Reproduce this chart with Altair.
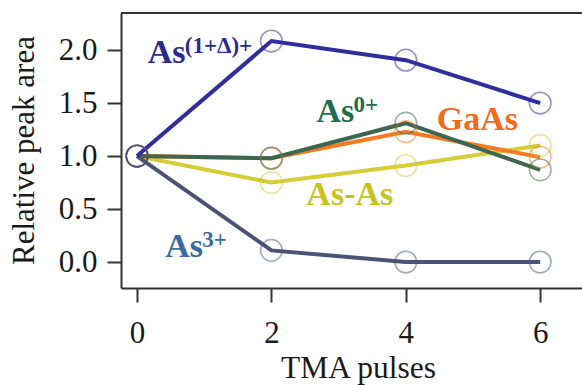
import altair as alt
import pandas as pd

pulses = [0, 2, 4, 6]
series_names = ["As-As", "GaAs", "As0+", "As3+", "As(1+Δ)+"]
as_as = [1.0, 0.75, 0.91, 1.10]
gaas = [1.0, 0.98, 1.23, 0.99]
as0 = [1.0, 0.98, 1.31, 0.87]
as3 = [1.0, 0.11, 0.0, 0.0]
as1d = [1.0, 2.085, 1.905, 1.50]
line_colors = ["#d4cd35", "#f47b20", "#3e6650", "#4a5276", "#2e2e9c"]

# annotation labels
lab_base = ["As", "As", "GaAs", "As-As", "As"]
lab_sup = ["(1+Δ)+", "3+", "", "", "0+"]
lab_x = [0.16, 0.42, 4.46, 2.52, 2.67]
lab_y = [1.88, 0.05, 1.245, 0.54, 1.32]
lab_colors = ["#2b2b8e", "#3a6aa2", "#f26a1b", "#c8c21e", "#1e6e4e"]

all_vals = [as_as, gaas, as0, as3, as1d]
rows = []
for name, vals in zip(series_names, all_vals):
    for p, v in zip(pulses, vals):
        rows.append({"series": name, "pulses": p, "value": v})
df = pd.DataFrame(rows)
labels = pd.DataFrame({"base": lab_base, "sup": lab_sup, "x": lab_x, "y": lab_y, "color": lab_colors})

W, H = 461, 275
xs = alt.Scale(domain=[-0.238, 6.622], nice=False, zero=False)
ys = alt.Scale(domain=[-0.245, 2.35], nice=False, zero=False)
color = alt.Color("series:N", scale=alt.Scale(domain=series_names, range=line_colors), legend=None)

xaxis = alt.Axis(values=pulses, format="d", title="TMA pulses", labelBaseline="alphabetic", labelPadding=40,
                 titleX=237, titleY=89, titleBaseline="alphabetic", titleAnchor="start", titleAlign="center",
                 titleFontSize=31.5)
yaxis = alt.Axis(values=[0, 0.5, 1.0, 1.5, 2.0], format=".1f", title="Relative peak area",
                 labelPadding=10, titleX=-88, titleY=137, titleAngle=-90, titleAlign="center",
                 titleBaseline="alphabetic", titleAnchor="start")

base = alt.Chart(df)
lines = base.mark_line(strokeWidth=4).encode(
    x=alt.X("pulses:Q", scale=xs, axis=xaxis),
    y=alt.Y("value:Q", scale=ys, axis=yaxis),
    color=color,
    detail="series:N",
)
points = base.mark_point(shape="circle", filled=False, size=470, strokeWidth=1.6, opacity=0.5).encode(
    x=alt.X("pulses:Q", scale=xs, axis=xaxis),
    y=alt.Y("value:Q", scale=ys, axis=yaxis),
    color=color,
)
txt = alt.Chart(labels).mark_text(font="Liberation Serif", fontSize=34, fontWeight="bold",
                                   align="left", baseline="alphabetic").encode(
    x=alt.X("x:Q", scale=xs, axis=xaxis), y=alt.Y("y:Q", scale=ys, axis=yaxis), text="base:N",
    color=alt.Color("color:N", scale=None))
sup = alt.Chart(labels).mark_text(font="Liberation Serif", fontSize=23, fontWeight="bold",
                                   align="left", baseline="alphabetic", dx=37, dy=-10).encode(
    x=alt.X("x:Q", scale=xs, axis=xaxis), y=alt.Y("y:Q", scale=ys, axis=yaxis), text="sup:N",
    color=alt.Color("color:N", scale=None))
top = alt.Chart(pd.DataFrame({"a": [0]})).mark_rule(color="#333333", strokeWidth=2).encode(
    x=alt.value(0), x2=alt.value(W), y=alt.value(0))

chart = alt.layer(lines, points, txt, sup, top).properties(
    width=W, height=H,
    background="white",
    autosize=alt.AutoSizeParams(type="none"),
    padding={"left": 121, "top": 13, "right": 0, "bottom": 97},
).configure_view(stroke=None).configure_axis(
    labelFont="Liberation Serif", labelFontSize=31, labelColor="#1a1a1a",
    titleFont="Liberation Serif", titleFontSize=31, titleFontWeight="normal", titleColor="#1a1a1a",
    domainColor="#333333", domainWidth=2, tickColor="#333333", tickWidth=2, tickSize=14, grid=False,
)

chart.save("out.html", embed_options={"renderer": "svg", "actions": False})
